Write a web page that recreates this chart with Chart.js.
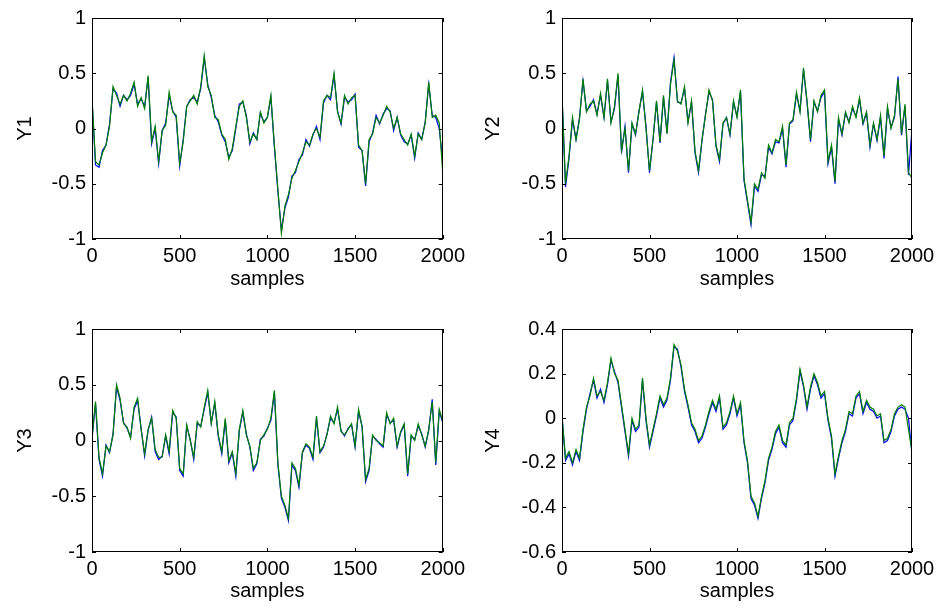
<!DOCTYPE html>
<html>
<head>
<meta charset="utf-8">
<script src="https://cdn.jsdelivr.net/npm/chart.js@4.4.1/dist/chart.umd.min.js"></script>
<style>
  body { margin: 0; background: #fff; }
  #fig { position: relative; width: 939px; height: 606px; }
  canvas { position: absolute; }
</style>
</head>
<body>
<div id="fig">
  <canvas id="c1" width="470" height="303" style="left:0;top:0"></canvas>
  <canvas id="c2" width="470" height="303" style="left:470px;top:0"></canvas>
  <canvas id="c3" width="470" height="303" style="left:0;top:303px"></canvas>
  <canvas id="c4" width="470" height="303" style="left:470px;top:303px"></canvas>
</div>
<script>
// sample index of each point
const samples = [0,20,40,60,80,100,120,140,160,180,200,220,240,260,280,300,320,340,360,380,
  400,420,440,460,480,500,520,540,560,580,600,620,640,660,680,700,720,740,760,780,
  800,820,840,860,880,900,920,940,960,980,1000,1020,1040,1060,1080,1100,1120,1140,1160,1180,
  1200,1220,1240,1260,1280,1300,1320,1340,1360,1380,1400,1420,1440,1460,1480,1500,1520,1540,1560,1580,
  1600,1620,1640,1660,1680,1700,1720,1740,1760,1780,1800,1820,1840,1860,1880,1900,1920,1940,1960,1980,2000];

const xTicks = [0, 500, 1000, 1500, 2000];
const yTicks = [-1, -0.5, 0, 0.5, 1];
const y4Ticks = [-0.6, -0.4, -0.2, 0, 0.2, 0.4];

const y1Green = [0.27,-0.3,-0.33,-0.22,-0.15,0.02,0.38,0.3,0.22,0.3,
  0.25,0.32,0.42,0.2,0.28,0.18,0.48,-0.12,0.02,-0.3,
  -0.02,0.03,0.33,0.15,0.12,-0.32,-0.12,0.2,0.25,0.3,
  0.22,0.38,0.66,0.38,0.3,0.1,0.08,-0.05,-0.1,-0.28,
  -0.18,0.02,0.2,0.25,0.1,-0.12,-0.05,-0.1,0.15,0.05,
  0.1,0.3,-0.15,-0.55,-0.95,-0.7,-0.6,-0.45,-0.38,-0.3,
  -0.22,-0.12,-0.15,-0.05,0.0,-0.08,0.25,0.3,0.28,0.5,
  0.15,0.05,0.3,0.22,0.28,0.3,-0.15,-0.2,-0.5,-0.1,
  -0.05,0.1,0.05,0.12,0.2,0.15,0.0,0.1,-0.05,-0.1,
  -0.15,-0.05,-0.25,-0.05,-0.1,0.05,0.42,0.1,0.12,0.05,
  -0.4];
const y1Blue = [0.27,-0.33,-0.35,-0.2,-0.15,0.04,0.36,0.32,0.2,0.3,
  0.26,0.3,0.4,0.22,0.27,0.2,0.46,-0.14,0.0,-0.32,
  -0.02,0.05,0.3,0.16,0.1,-0.34,-0.1,0.2,0.26,0.28,
  0.24,0.36,0.64,0.4,0.28,0.12,0.06,-0.06,-0.12,-0.26,
  -0.2,0.0,0.22,0.24,0.12,-0.14,-0.04,-0.1,0.14,0.06,
  0.1,0.28,-0.17,-0.57,-0.92,-0.72,-0.62,-0.43,-0.4,-0.28,
  -0.24,-0.1,-0.16,-0.06,0.02,-0.1,0.23,0.3,0.26,0.48,
  0.16,0.04,0.28,0.24,0.26,0.31,-0.17,-0.2,-0.52,-0.12,
  -0.04,0.12,0.04,0.13,0.18,0.16,-0.02,0.1,-0.06,-0.12,
  -0.14,-0.06,-0.27,-0.04,-0.1,0.06,0.4,0.12,0.1,0.0,
  -0.3];

const y2Green = [0.3,-0.5,-0.25,0.1,-0.1,0.08,0.45,0.15,0.22,0.25,
  0.12,0.32,0.1,0.45,0.05,0.2,0.5,-0.2,0.0,-0.38,
  0.05,-0.05,0.15,0.35,0.0,-0.38,-0.1,0.25,-0.12,0.3,
  -0.05,0.4,0.62,0.25,0.22,0.38,0.05,0.25,-0.2,-0.38,
  -0.1,0.12,0.35,0.25,-0.15,-0.28,0.05,0.1,-0.05,0.25,
  0.1,0.35,-0.45,-0.65,-0.85,-0.5,-0.55,-0.4,-0.45,-0.15,
  -0.22,-0.1,-0.12,0.02,-0.33,0.05,0.08,0.33,0.15,0.55,
  0.25,-0.1,0.25,0.15,0.3,0.35,-0.3,-0.15,-0.48,0.1,
  -0.05,0.15,0.05,0.2,0.1,0.28,0.05,0.15,-0.15,0.05,
  -0.1,0.12,-0.25,0.2,0.0,0.12,0.45,-0.05,0.22,-0.4,
  -0.45];
const y2Blue = [0.3,-0.53,-0.27,0.08,-0.1,0.1,0.43,0.16,0.2,0.26,
  0.13,0.3,0.1,0.43,0.06,0.18,0.48,-0.22,0.02,-0.4,
  0.04,-0.06,0.16,0.33,0.02,-0.4,-0.1,0.24,-0.13,0.28,
  -0.04,0.42,0.64,0.24,0.23,0.36,0.06,0.24,-0.22,-0.4,
  -0.11,0.13,0.33,0.26,-0.16,-0.3,0.04,0.1,-0.06,0.24,
  0.11,0.33,-0.47,-0.67,-0.87,-0.52,-0.57,-0.42,-0.43,-0.17,
  -0.23,-0.12,-0.13,0.0,-0.35,0.04,0.07,0.31,0.16,0.53,
  0.24,-0.12,0.24,0.16,0.28,0.33,-0.32,-0.17,-0.5,0.08,
  -0.06,0.14,0.06,0.18,0.11,0.26,0.04,0.14,-0.17,0.04,
  -0.11,0.1,-0.27,0.18,0.01,0.1,0.47,-0.06,0.2,-0.42,
  0.0];

const y3Green = [0.02,0.35,-0.15,-0.3,-0.05,-0.1,0.05,0.5,0.38,0.15,
  0.12,0.02,0.3,0.38,0.1,-0.12,0.1,0.2,-0.08,-0.15,
  -0.15,0.05,-0.1,0.27,0.2,-0.25,-0.3,0.14,0.0,-0.15,
  0.17,0.12,0.3,0.45,0.15,0.35,0.05,-0.1,0.2,-0.18,
  -0.1,-0.3,0.1,0.27,0.05,-0.05,-0.25,-0.2,0.0,0.05,
  0.1,0.2,0.45,-0.2,-0.5,-0.58,-0.7,-0.2,-0.25,-0.4,
  -0.1,-0.03,-0.06,-0.15,0.22,-0.1,-0.05,0.05,0.22,0.15,
  0.3,0.08,0.05,0.1,0.15,-0.05,0.28,0.12,-0.35,-0.25,
  0.05,0.0,-0.02,-0.05,0.25,0.15,0.2,-0.05,0.08,0.15,
  -0.3,0.05,0.0,0.15,0.05,-0.05,0.1,0.35,-0.2,0.28,
  0.17];
const y3Blue = [0.02,0.33,-0.17,-0.32,-0.04,-0.11,0.06,0.48,0.36,0.16,
  0.11,0.03,0.28,0.36,0.11,-0.14,0.09,0.21,-0.1,-0.17,
  -0.14,0.04,-0.12,0.25,0.21,-0.27,-0.32,0.13,0.01,-0.17,
  0.15,0.13,0.28,0.43,0.16,0.33,0.04,-0.12,0.18,-0.2,
  -0.11,-0.32,0.09,0.25,0.06,-0.06,-0.27,-0.21,0.01,0.04,
  0.11,0.18,0.43,-0.22,-0.52,-0.6,-0.72,-0.22,-0.27,-0.42,
  -0.11,-0.04,-0.07,-0.17,0.2,-0.11,-0.06,0.06,0.2,0.16,
  0.28,0.09,0.04,0.11,0.14,-0.06,0.26,0.13,-0.37,-0.27,
  0.04,0.01,-0.03,-0.06,0.23,0.16,0.18,-0.06,0.07,0.14,
  -0.32,0.04,0.01,0.13,0.06,-0.06,0.09,0.37,-0.22,0.26,
  0.16];

const y4Green = [0.01,-0.18,-0.15,-0.2,-0.14,-0.18,-0.05,0.05,0.1,0.18,
  0.1,0.12,0.08,0.16,0.27,0.2,0.17,0.06,-0.05,-0.16,
  0.0,-0.05,-0.03,0.18,0.0,-0.12,-0.05,0.02,0.1,0.06,
  0.09,0.18,0.33,0.3,0.24,0.13,0.06,-0.02,-0.05,-0.1,
  -0.08,-0.03,0.03,0.08,0.04,0.1,-0.04,-0.02,0.03,0.1,
  0.02,0.07,-0.1,-0.19,-0.35,-0.38,-0.44,-0.35,-0.28,-0.18,
  -0.13,-0.06,-0.03,-0.1,-0.12,-0.02,0.0,0.09,0.22,0.15,
  0.05,0.14,0.2,0.16,0.1,0.12,0.0,-0.08,-0.25,-0.17,
  -0.1,-0.05,0.03,0.02,0.1,0.12,0.03,0.08,0.05,0.04,
  0.01,0.02,-0.1,-0.09,-0.05,0.02,0.05,0.06,0.05,-0.05,
  -0.15];
const y4Blue = [0.01,-0.19,-0.16,-0.21,-0.15,-0.19,-0.06,0.04,0.11,0.17,
  0.09,0.13,0.07,0.15,0.26,0.21,0.16,0.05,-0.06,-0.17,
  -0.01,-0.06,-0.04,0.17,-0.01,-0.13,-0.06,0.01,0.09,0.05,
  0.08,0.17,0.32,0.31,0.23,0.12,0.05,-0.03,-0.06,-0.11,
  -0.09,-0.04,0.02,0.07,0.03,0.09,-0.05,-0.03,0.02,0.09,
  0.01,0.06,-0.11,-0.2,-0.36,-0.39,-0.45,-0.36,-0.29,-0.19,
  -0.14,-0.07,-0.04,-0.11,-0.13,-0.03,-0.01,0.08,0.21,0.14,
  0.04,0.13,0.19,0.15,0.09,0.11,-0.01,-0.09,-0.26,-0.18,
  -0.11,-0.06,0.02,0.01,0.09,0.11,0.02,0.07,0.04,0.03,
  0.0,0.01,-0.11,-0.1,-0.06,0.01,0.04,0.05,0.04,0.0,
  -0.16];

const FONT = { family: '"Liberation Sans", Arial, Helvetica, sans-serif', size: 20, lineHeight: 1.2 };

// MATLAB-like box with inward tick marks
const framePlugin = {
  id: 'frame',
  afterDatasetsDraw(chart) {
    const { ctx, chartArea: a, scales: { x, y } } = chart;
    ctx.save();
    ctx.strokeStyle = '#000';
    ctx.lineWidth = 1;
    ctx.beginPath();
    x.ticks.forEach(t => {
      const px = Math.round(x.getPixelForValue(t.value)) + 0.5;
      ctx.moveTo(px, a.bottom); ctx.lineTo(px, a.bottom - 4);
      ctx.moveTo(px, a.top); ctx.lineTo(px, a.top + 4);
    });
    y.ticks.forEach(t => {
      const py = Math.round(y.getPixelForValue(t.value)) + 0.5;
      ctx.moveTo(a.left, py); ctx.lineTo(a.left + 4, py);
      ctx.moveTo(a.right, py); ctx.lineTo(a.right - 4, py);
    });
    ctx.stroke();
    ctx.strokeRect(Math.round(a.left) + 0.5, Math.round(a.top) + 0.5,
      Math.round(a.width) - 1, Math.round(a.height) - 1);
    ctx.restore();
  }
};

function toPoints(vals) {
  return vals.map((v, i) => ({ x: samples[i], y: v }));
}

function makeChart(id, label, green, blue, ticks, box) {
  new Chart(document.getElementById(id), {
    type: 'line',
    data: {
      datasets: [
        { data: toPoints(green), borderColor: 'rgb(0,128,0)', borderWidth: 1.2, pointRadius: 0, tension: 0 },
        { data: toPoints(blue), borderColor: 'rgb(0,0,255)', borderWidth: 1.2, pointRadius: 0, tension: 0 }
      ]
    },
    options: {
      responsive: false,
      animation: false,
      events: [],
      layout: { padding: { top: box.top, right: box.right, left: 0, bottom: 0 } },
      plugins: { legend: { display: false }, tooltip: { enabled: false } },
      scales: {
        x: {
          type: 'linear', min: 0, max: 2000,
          afterBuildTicks: s => { s.ticks = xTicks.map(v => ({ value: v })); },
          afterFit: s => { s.height = box.xh; },
          grid: { display: false, drawTicks: false },
          border: { display: false },
          ticks: { color: '#000', font: FONT, padding: 5, maxRotation: 0, callback: v => String(v) },
          title: { display: true, text: 'samples', color: '#000', font: FONT, padding: { top: 0, bottom: box.tb } }
        },
        y: {
          type: 'linear', min: ticks[0], max: ticks[ticks.length - 1],
          afterBuildTicks: s => { s.ticks = ticks.map(v => ({ value: v })); },
          afterFit: s => { s.width = 92; },
          grid: { display: false, drawTicks: false },
          border: { display: false },
          ticks: { color: '#000', font: FONT, padding: 6, callback: v => String(v) },
          title: { display: true, text: label, color: '#000', font: FONT, padding: { top: box.yt, bottom: 0 } }
        }
      }
    },
    plugins: [framePlugin]
  });
}

makeChart('c1', 'Y1', y1Green, y1Blue, yTicks, { top: 15, right: 26, xh: 64, tb: 12, yt: 13 });
makeChart('c2', 'Y2', y2Green, y2Blue, yTicks, { top: 15, right: 28, xh: 64, tb: 12, yt: 11 });
makeChart('c3', 'Y3', y3Green, y3Blue, yTicks, { top: 26, right: 26, xh: 54, tb: 3, yt: 13 });
makeChart('c4', 'Y4', y4Green, y4Blue, y4Ticks, { top: 26, right: 28, xh: 54, tb: 3, yt: 11 });
</script>
</body>
</html>
